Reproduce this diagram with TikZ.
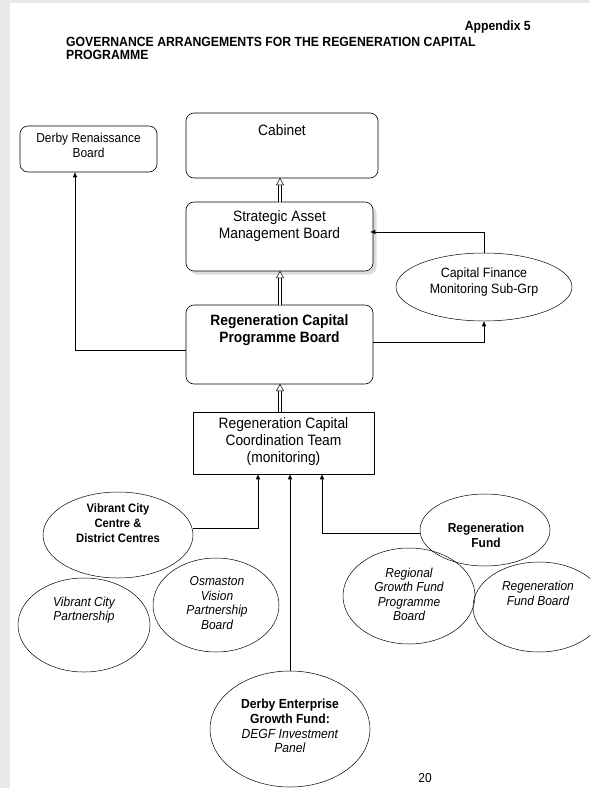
\documentclass[tikz,border=0pt]{standalone}
\usepackage{fontspec}
\setmainfont[FakeStretch=0.92]{Liberation Sans}
\usetikzlibrary{arrows.meta,shapes.geometric,shadows}
\begin{document}
\begin{tikzpicture}[x=1pt,y=-1pt,
  rbox/.style={draw, line width=0.6pt, rounded corners=8pt, inner sep=0pt},
  sbox/.style={draw, line width=0.6pt, inner sep=0pt},
  ell/.style={draw, ellipse, line width=0.5pt, inner sep=0pt},
  txt/.style={align=center, inner sep=0pt},
  bt/.style={txt, font=\fontsize{15}{17}\selectfont},
  et/.style={txt, font=\fontsize{13.2}{14.6}\selectfont},
  conn/.style={line width=0.7pt},
  arr/.style={conn, -{Triangle[length=5pt,width=4pt]}},
  hshaft/.style={double=white, double distance=2.4pt, line width=0.5pt, shorten >=6pt},
  htip/.style={line width=0.5pt, fill=white}
]
\useasboundingbox (0,0) rectangle (590,788);
\clip (0,0) rectangle (590,788);
\fill[gray!17] (0,0) rectangle (10,788);
\fill[gray!17] (0,0) rectangle (590,3);

% titles
\node[anchor=east, inner sep=0pt, font=\bfseries\fontsize{13.3}{14}\selectfont] (app) at (531,27) {Appendix 5};
\node[anchor=west, align=left, inner sep=0pt, font=\bfseries\fontsize{13.3}{13.5}\selectfont] (title) at (66,48.5) {GOVERNANCE ARRANGEMENTS FOR THE REGENERATION CAPITAL\\PROGRAMME};

% boxes
\node[rbox, minimum width=137, minimum height=46] (drb) at (88.5,149) {};
\node[txt, font=\fontsize{13}{15}\selectfont] (drbt) at (88.5,145.5) {Derby Renaissance\\Board};

\node[rbox, minimum width=192, minimum height=65] (cab) at (282,145.5) {};
\node[bt] (cabt) at (282,130) {Cabinet};

\node[rbox, minimum width=187, minimum height=69, fill=white, drop shadow={shadow xshift=3.5pt, shadow yshift=-3.5pt, fill=gray!55}] (samb) at (279.5,236.5) {};
\node[bt] (sambt) at (279.5,226) {Strategic Asset\\Management Board};

\node[rbox, minimum width=187, minimum height=79] (rcpb) at (279.5,344.5) {};
\node[bt, font=\bfseries\fontsize{15}{17}\selectfont] (rcpbt) at (279.5,330) {Regeneration Capital\\Programme Board};

\node[sbox, minimum width=181, minimum height=62] (coord) at (283.5,443) {};
\node[bt] (coordt) at (283.5,442) {Regeneration Capital\\Coordination Team\\(monitoring)};

% Capital finance ellipse
\node[ell, minimum width=176, minimum height=68] (cfm) at (484,287) {};
\node[txt, font=\fontsize{13.5}{16}\selectfont] (cfmt) at (484,282) {Capital Finance\\Monitoring Sub-Grp};

% lower ellipses
\node[ell, minimum width=150, minimum height=86] (vcc) at (118,535) {};
\node[et, font=\bfseries\fontsize{12.2}{14.8}\selectfont] (vcct) at (118,523) {Vibrant City\\Centre \&\\District Centres};

\node[ell, minimum width=132, minimum height=94] (vcp) at (84,625) {};
\node[et, font=\itshape\fontsize{13}{14.6}\selectfont] (vcpt) at (84,610) {Vibrant City\\Partnership};

\node[ell, minimum width=126, minimum height=94] (osm) at (216,605) {};
\node[et, font=\itshape\fontsize{13}{14.6}\selectfont] (osmt) at (217,603) {Osmaston\\Vision\\Partnership\\Board};

\node[ell, minimum width=130, minimum height=72] (rf) at (485,530) {};
\node[et, font=\bfseries\fontsize{13}{15}\selectfont] (rft) at (486,535.5) {Regeneration\\Fund};

\node[ell, minimum width=132, minimum height=96] (rgf) at (409,596) {};
\node[et, font=\itshape\fontsize{13}{14.4}\selectfont] (rgft) at (409,594.5) {Regional\\Growth Fund\\Programme\\Board};

\node[ell, minimum width=132, minimum height=90] (rfb) at (539,607) {};
\node[et, font=\itshape\fontsize{13}{14.4}\selectfont] (rfbt) at (538,593.5) {Regeneration\\Fund Board};

\node[ell, minimum width=160, minimum height=116] (degf) at (290,729) {};
\node[et] (degft) at (290,726) {\textbf{Derby Enterprise}\\\textbf{Growth Fund:}\\\textit{DEGF Investment}\\\textit{Panel}};

\node[inner sep=0pt, font=\fontsize{13}{15}\selectfont] (pg) at (425,778) {20};

% hollow arrows
\coordinate (hx) at (280,0);
\draw[hshaft] (samb.north -| hx) -- (cab.south -| hx);
\draw[htip] (cab.south -| hx) -- ++(-3.5,6.5) -- ++(7,0) -- cycle;
\draw[hshaft] (rcpb.north -| hx) -- (samb.south -| hx);
\draw[htip] (samb.south -| hx) -- ++(-3.5,6.5) -- ++(7,0) -- cycle;
\draw[hshaft] (coord.north -| hx) -- (rcpb.south -| hx);
\draw[htip] (rcpb.south -| hx) -- ++(-3.5,6.5) -- ++(7,0) -- cycle;

% solid connectors
\coordinate (j1) at (484,232);
\draw[conn] (cfm.north) -- (j1);
\draw[arr, shorten >=-3pt] (j1) -- (samb.east |- j1);

\coordinate (j2) at (75,350);
\draw[arr] (rcpb.west |- j2) -- (j2) -- (drb.south -| j2);

\coordinate (j3) at (484,342);
\draw[arr, shorten <=-4pt] ([xshift=4pt]rcpb.east |- j3) -- (j3) -- (cfm.south);

\coordinate (k1) at (258,528);
\draw[arr] (vcc.east |- k1) -- (k1) -- (coord.south -| k1);
\coordinate (k2) at (322,533);
\draw[arr] (rf.west |- k2) -- (k2) -- (coord.south -| k2);
\draw[arr] (degf.north) -- (coord.south -| degf.north);
\end{tikzpicture}
\end{document}
